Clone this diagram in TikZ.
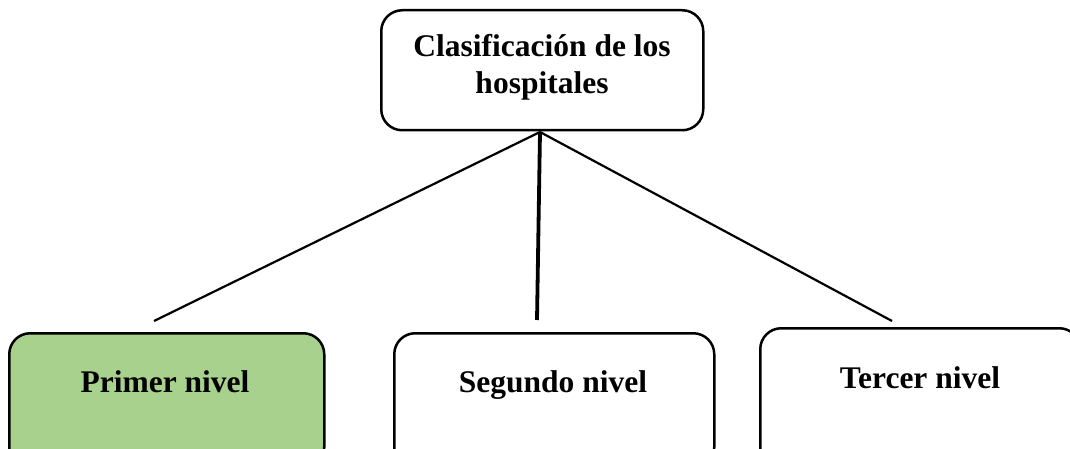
\documentclass[tikz,border=0pt]{standalone}
\usepackage{fontspec}
\setmainfont{Liberation Serif}
\definecolor{lvgreen}{RGB}{169,209,142}
\begin{document}
\begin{tikzpicture}[x=1pt,y=-1pt,
  box/.style={draw=black, line width=2.5pt, rounded corners=21pt, fill=white, inner sep=0pt, anchor=north west},
  lbl/.style={font=\fontsize{31.5}{37}\selectfont\bfseries, inner sep=0pt, align=center},
  conn/.style={line width=2.2pt}]
\useasboundingbox (0,0) rectangle (1070,449);
% top box
\node[box, minimum width=322pt, minimum height=120pt] (top) at (380,9) {};
\node[lbl, anchor=base] (toptext) at (542,94) {Clasificación de los\\hospitales};
% bottom boxes
\node[box, fill=lvgreen, minimum width=315pt, minimum height=135pt] (b1) at (8,332) {};
\node[box, minimum width=320pt, minimum height=135pt] (b2) at (393,332) {};
\node[box, minimum width=320pt, minimum height=140pt] (b3) at (759,327) {};
\node[lbl, anchor=base] (t1) at (165,392) {Primer nivel};
\node[lbl, anchor=base] (t2) at (553,392) {Segundo nivel};
\node[lbl, anchor=base] (t3) at (920,388) {Tercer nivel};
% connectors
\coordinate (apex) at (540,132);
\coordinate (e1) at (154,321);
\coordinate (e2) at (537,320);
\coordinate (e3) at (892,321);
\draw[conn] (apex) -- (e1);
\draw[conn] (apex) -- (e3);
\draw[line width=3.8pt] (apex) -- (e2);
\end{tikzpicture}
\end{document}
